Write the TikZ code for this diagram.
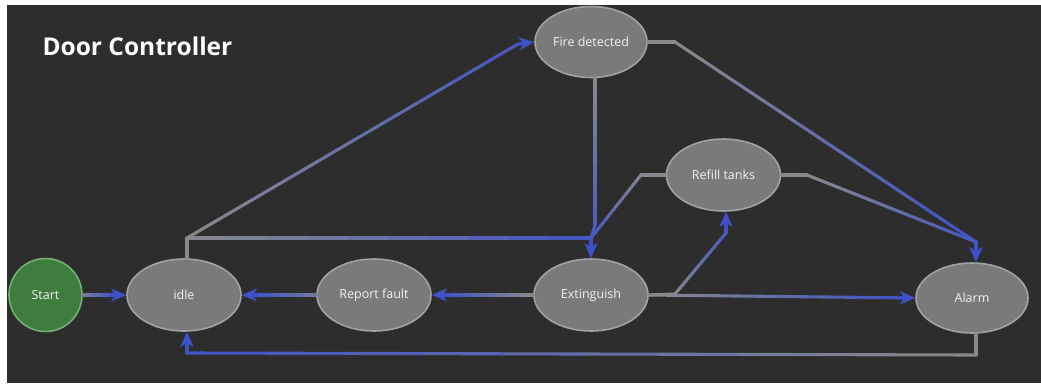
\documentclass[tikz,border=0pt]{standalone}
\usepackage{fontspec}
\setmainfont{Open Sans}
\usetikzlibrary{calc,shapes.geometric,arrows.meta}
\definecolor{bgc}{HTML}{2D2D2D}
\definecolor{nfill}{HTML}{7A7A7A}
\definecolor{nline}{HTML}{A2A2A2}
\definecolor{sfill}{HTML}{3E7D3E}
\definecolor{sline}{HTML}{74B074}
\definecolor{egray}{HTML}{8A8A8A}
\definecolor{eblue}{HTML}{3F51C8}
\definecolor{txt}{HTML}{F2F2F2}
\tikzset{
  state/.style={ellipse,draw=nline,fill=nfill,line width=1.6pt,inner sep=0pt,
    minimum width=114pt,minimum height=72pt,text=txt,font=\fontsize{12.5}{14}\selectfont},
  startstate/.style={circle,draw=sline,fill=sfill,line width=1.6pt,inner sep=0pt,
    minimum size=73pt,text=txt,font=\fontsize{12.5}{14}\selectfont},
  edge/.style={line width=3.1pt,line cap=round,line join=round},
  tip/.style={-{Stealth[length=15pt,width=13pt,inset=4pt]}}
}
\newcommand\gseg[4]{%
  \foreach \i in {0,...,9}{%
    \pgfmathsetmacro\mA{#3+(#4-#3)*(\i+0.5)/10}%
    \pgfmathsetmacro\tA{\i/10}%
    \pgfmathsetmacro\tB{(\i+1)/10}%
    \draw[edge,draw=eblue!\mA!egray] ($(#1)!\tA!(#2)$) -- ($(#1)!\tB!(#2)$);
  }}
\newcommand\glast[4]{%
  \coordinate (tmpE) at ($(#2)!10pt!(#1)$);
  \gseg{#1}{tmpE}{#3}{#4}%
  \draw[edge,line cap=butt,eblue,tip] ($(#2)!16pt!(#1)$) -- (#2);
}
\begin{document}
\begin{tikzpicture}[x=1pt,y=-1pt]
\useasboundingbox (0,0) rectangle (1041,383);
\fill[white] (0,0) rectangle (1041,383);
\fill[bgc] (7,5) rectangle (1041,383);
\node[anchor=base west,text=white,font=\bfseries\fontsize{24.5}{28}\selectfont] (title) at (39,55) {Door Controller};
% nodes
\node[startstate] (start) at (45.5,295) {Start};
\node[state] (idle) at (184,295) {idle};
\node[state] (report) at (374,295) {Report fault};
\node[state] (ext) at (591,295) {Extinguish};
\node[state,minimum width=112pt,minimum height=71pt] (fire) at (591,42) {Fire detected};
\node[state] (refill) at (723.5,175) {Refill tanks};
\node[state,minimum width=112pt,minimum height=70pt] (alarm) at (972,298) {Alarm};
% bend coordinates
\coordinate (i1) at (187,238);
\coordinate (j1) at (ext.north |- i1);
\coordinate (f1) at (518,44);
\coordinate (fs) at (595,77);
\coordinate (f3) at (595,225);
\coordinate (r1) at (641,175);
\coordinate (e1) at (675,294);
\coordinate (r2) at (726,233);
\coordinate (f2) at (675,42);
\coordinate (a1) at (976,242);
\coordinate (r3) at (807,175);
\coordinate (a2) at (976,355);
\coordinate (i2) at (187,353);
% edges
\glast{start.east}{idle.west}{20}{100}
\glast{report.west}{idle.east}{30}{100}
\glast{ext.west}{report.east}{0}{100}
\glast{ext.east}{alarm.west}{0}{100}
% idle -> extinguish
\gseg{idle.north -| i1}{i1}{0}{0}
\gseg{i1}{j1}{0}{95}
\glast{j1}{ext.north}{95}{100}
% idle -> fire detected
\gseg{i1}{f1}{0}{90}
\glast{f1}{fire.west}{90}{100}
% fire detected -> extinguish
\gseg{fs}{f3}{0}{80}
\gseg{f3}{j1}{80}{95}
% refill -> extinguish
\gseg{refill.west}{r1}{0}{5}
\gseg{r1}{j1}{5}{90}
% extinguish -> refill
\gseg{ext.east}{e1}{0}{5}
\gseg{e1}{r2}{5}{85}
\glast{r2}{refill.south -| r2}{85}{100}
% fire detected -> alarm
\gseg{fire.east}{f2}{0}{0}
\gseg{f2}{a1}{0}{100}
% refill -> alarm
\gseg{refill.east}{r3}{0}{0}
\gseg{r3}{a1}{0}{90}
\glast{a1}{alarm.north -| a1}{95}{100}
% alarm -> idle
\gseg{alarm.south -| a1}{a2}{0}{0}
\gseg{a2}{i2}{0}{100}
\glast{i2}{idle.south -| i2}{100}{100}
\end{tikzpicture}
\end{document}
